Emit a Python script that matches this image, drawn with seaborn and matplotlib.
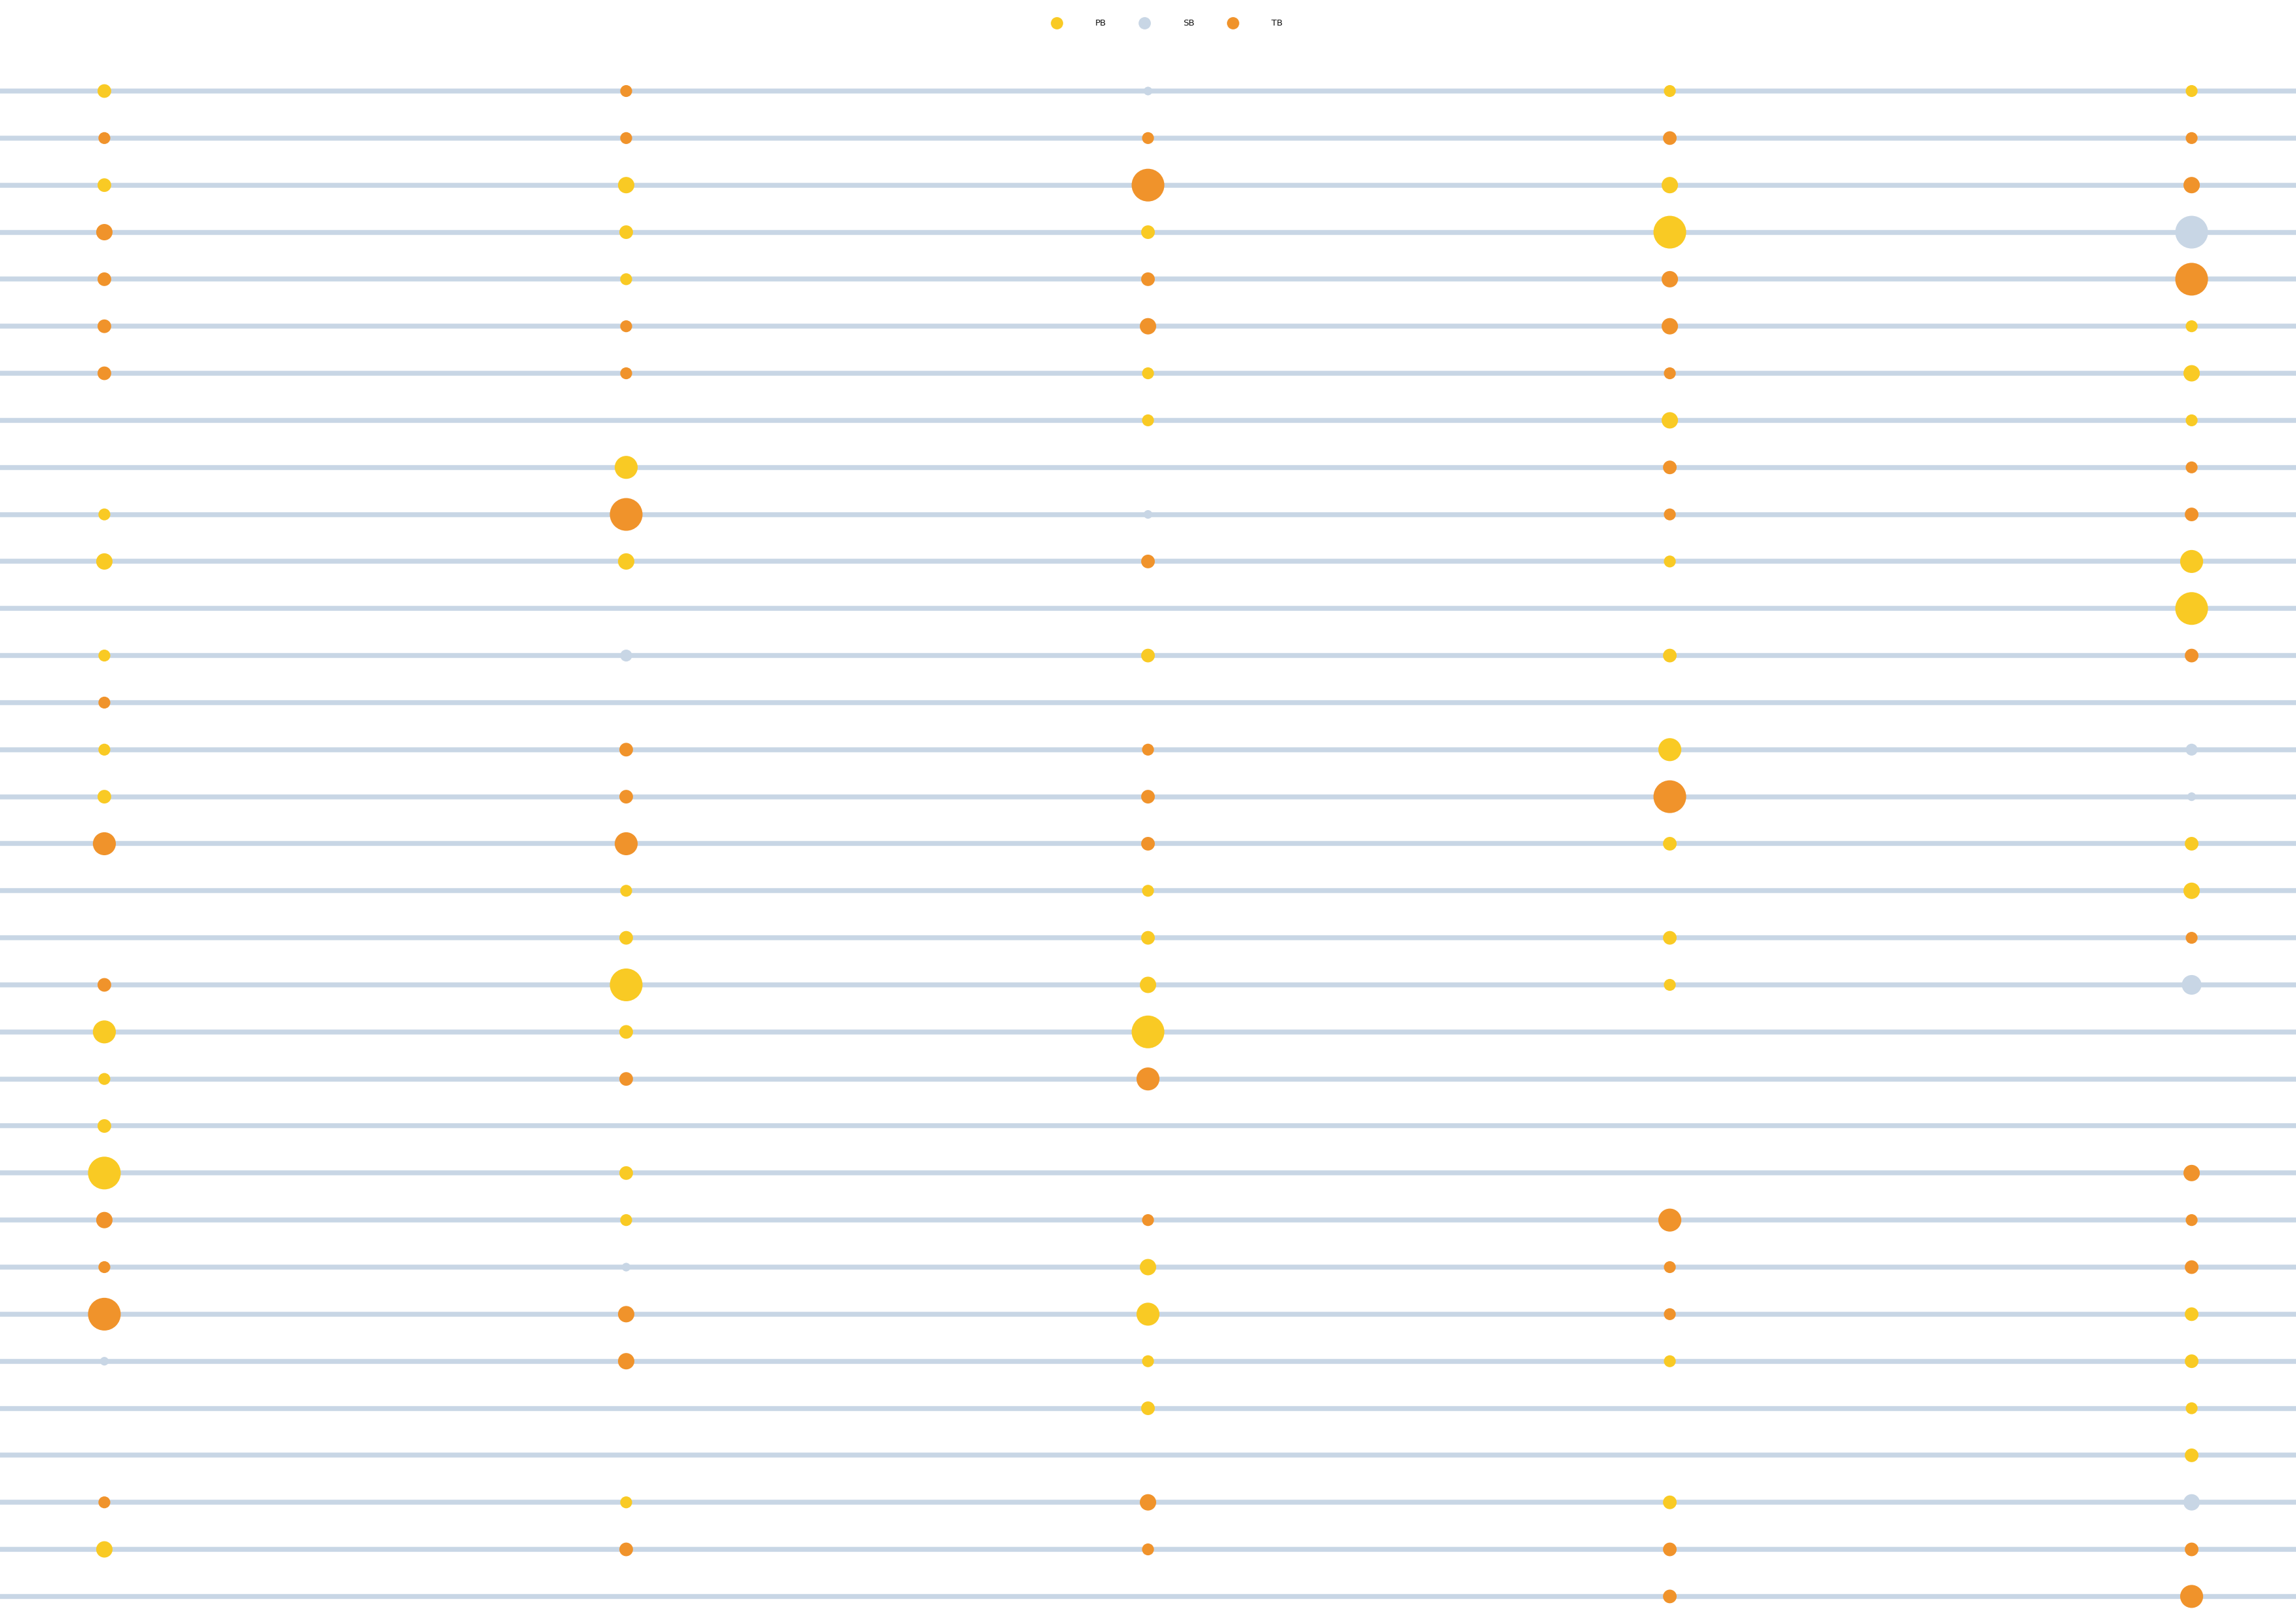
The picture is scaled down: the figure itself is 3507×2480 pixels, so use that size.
import matplotlib
matplotlib.use("Agg")
import matplotlib.pyplot as plt
from matplotlib.lines import Line2D
import pandas as pd
import seaborn as sns

groups = ["PB", "SB", "TB"]
colors = {"PB": "#f9ca24", "SB": "#c8d6e5", "TB": "#f0932b"}
columns = ["C1", "C2", "C3", "C4", "C5"]
n_rows = 33

# group of the dot on each row ("" = no dot) and its size level
c1_group = ["PB", "TB", "PB", "TB", "TB", "TB", "TB", "", "", "PB", "PB", "", "PB", "TB", "PB", "PB", "TB",
            "", "", "TB", "PB", "PB", "PB", "PB", "TB", "TB", "TB", "SB", "", "", "TB", "PB", ""]
c1_level = [3, 2, 3, 4, 3, 3, 3, 0, 0, 2, 4, 0, 2, 2, 2, 3, 6, 0, 0, 3, 6, 2, 3, 7, 4, 2, 7, 1, 0, 0, 2, 4, 0]

c2_group = ["TB", "TB", "PB", "PB", "PB", "TB", "TB", "", "PB", "TB", "PB", "", "SB", "", "TB", "TB", "TB",
            "PB", "PB", "PB", "PB", "TB", "", "PB", "PB", "SB", "TB", "TB", "", "", "PB", "TB", ""]
c2_level = [2, 2, 4, 3, 2, 2, 2, 0, 6, 7, 4, 0, 2, 0, 3, 3, 6, 2, 3, 7, 3, 3, 0, 3, 2, 1, 4, 4, 0, 0, 2, 3, 0]

c3_group = ["SB", "TB", "TB", "PB", "TB", "TB", "PB", "PB", "", "SB", "TB", "", "PB", "", "TB", "TB", "TB",
            "PB", "PB", "PB", "PB", "TB", "", "", "TB", "PB", "PB", "PB", "PB", "", "TB", "TB", ""]
c3_level = [1, 2, 7, 3, 3, 4, 2, 2, 0, 1, 3, 0, 3, 0, 2, 3, 3, 2, 3, 4, 7, 6, 0, 0, 2, 4, 6, 2, 3, 0, 4, 2, 0]

c4_group = ["PB", "TB", "PB", "PB", "TB", "TB", "TB", "PB", "TB", "TB", "PB", "", "PB", "", "PB", "TB", "PB",
            "", "PB", "PB", "", "", "", "", "TB", "TB", "TB", "PB", "", "", "PB", "TB", "TB"]
c4_level = [2, 3, 4, 7, 4, 4, 2, 4, 3, 2, 2, 0, 3, 0, 6, 7, 3, 0, 3, 2, 0, 0, 0, 0, 6, 2, 2, 2, 0, 0, 3, 3, 3]

c5_group = ["PB", "TB", "TB", "SB", "TB", "PB", "PB", "PB", "TB", "TB", "PB", "PB", "TB", "", "SB", "SB", "PB",
            "PB", "TB", "SB", "", "", "", "TB", "TB", "TB", "PB", "PB", "PB", "PB", "SB", "TB", "TB"]
c5_level = [2, 2, 4, 7, 7, 2, 4, 2, 2, 3, 6, 7, 3, 0, 2, 1, 3, 4, 2, 5, 0, 0, 0, 4, 2, 3, 3, 3, 2, 3, 4, 3, 6]

all_groups = [c1_group, c2_group, c3_group, c4_group, c5_group]
all_levels = [c1_level, c2_level, c3_level, c4_level, c5_level]

# build long table
records = []
for ci, (grp, lvl) in enumerate(zip(all_groups, all_levels)):
    for ri in range(n_rows):
        if grp[ri]:
            records.append({"col": ci, "row": ri, "group": grp[ri], "level": lvl[ri]})
df = pd.DataFrame(records)

# marker areas (pt^2) for each level
level_sizes = {1: 10, 2: 19, 3: 25, 4: 36, 5: 52, 6: 71, 7: 144}

sns.set_style("white")
fig = plt.figure(figsize=(3507 / 300, 2480 / 300), dpi=300)
ax = fig.add_axes([0, 0, 1, 1])

ax.hlines(range(n_rows), 0, 1, transform=ax.get_yaxis_transform(),
          color="#c8d6e5", linewidth=1.8, zorder=1)

sns.scatterplot(data=df, x="col", y="row", hue="group", hue_order=groups, palette=colors,
                size="level", sizes=level_sizes, linewidth=0, alpha=1, legend=False,
                ax=ax, zorder=3)

ax.set_xlim(-0.2, len(columns) - 0.8)
ax.set_ylim(32.586, -1.935)
ax.axis("off")

handles = [Line2D([], [], marker="o", linestyle="", markersize=4.5,
                  markerfacecolor=colors[g], markeredgewidth=0) for g in groups]
fig.legend(handles, groups, loc="center", bbox_to_anchor=(0.5075, 0.9855), ncol=3,
           frameon=False, fontsize=3.2, handletextpad=3.4, columnspacing=3.4,
           handlelength=2, labelcolor="#111111")

fig.savefig("out.png", dpi=300)
